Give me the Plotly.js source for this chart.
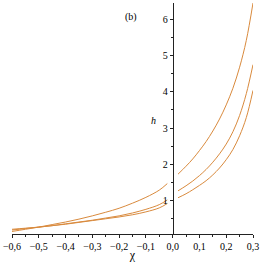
<!DOCTYPE html>
<html>
<head>
<meta charset="utf-8">
<script src="https://cdn.plot.ly/plotly-3.0.1.min.js"></script>
<style>html,body{margin:0;padding:0;background:#fff;}#chart{width:262px;height:262px;}</style>
</head>
<body>
<div id="chart"></div>
<script>
// Left branches (chi < 0)
const chiLeft = [-0.6,-0.55,-0.5,-0.45,-0.4,-0.35,-0.3,-0.25,-0.2,-0.15,-0.1,-0.05,-0.02];
const hTopLeft = [0.15,0.21,0.27,0.34,0.41,0.49,0.58,0.68,0.79,0.93,1.09,1.29,1.47];
const hMidLeft = [0.19,0.23,0.27,0.31,0.36,0.41,0.46,0.52,0.58,0.66,0.76,0.89,1.02];
const hLowLeft = [0.21,0.24,0.27,0.31,0.35,0.40,0.45,0.50,0.55,0.61,0.69,0.80,0.92];
// Right branches (chi > 0)
const chiRight = [0.02,0.05,0.075,0.1,0.125,0.15,0.175,0.2,0.225,0.25,0.275,0.3];
const hTopRight = [1.73,1.95,2.15,2.38,2.63,2.92,3.25,3.64,4.10,4.68,5.42,6.45];
const hMidRight = [1.27,1.41,1.54,1.69,1.86,2.06,2.29,2.56,2.90,3.35,3.95,4.75];
const hLowRight = [1.08,1.19,1.30,1.42,1.55,1.71,1.90,2.13,2.41,2.79,3.29,4.04];

const yTickVals = [1,2,3,4,5,6];
const xTickVals = [-0.6,-0.5,-0.4,-0.3,-0.2,-0.1,0,0.1,0.2,0.3];

const col = '#d98a3d';
const mk = (x, y) => ({x: x, y: y, type: 'scatter', mode: 'lines',
  line: {color: col, width: 1, shape: 'spline', smoothing: 1}, hoverinfo: 'none'});

const data = [
  mk(chiLeft, hTopLeft), mk(chiLeft, hMidLeft), mk(chiLeft, hLowLeft),
  mk(chiRight, hTopRight), mk(chiRight, hMidRight), mk(chiRight, hLowRight)
];

const fam = 'Liberation Serif, serif';
const fnt = {family: fam, size: 10, color: '#000'};

const layout = {
  width: 262, height: 262,
  margin: {l: 12, r: 9, t: 3, b: 28, pad: 0},
  paper_bgcolor: '#fff', plot_bgcolor: '#fff',
  showlegend: false,
  separators: ', ',
  font: fnt,
  xaxis: {
    range: [-0.6, 0.3], showgrid: false, zeroline: false,
    showline: true, linecolor: '#222', linewidth: 1,
    ticks: 'outside', ticklen: 3, tickcolor: '#222',
    tickvals: xTickVals, tickformat: '.1f',
    minor: {dtick: 0.05, tick0: 0, ticks: 'outside', ticklen: 2, tickcolor: '#222'},
    tickfont: fnt,
    title: {text: 'χ', font: {family: fam, size: 12, color: '#000'}, standoff: 4}
  },
  yaxis: {
    range: [0.08, 6.45], showgrid: false, zeroline: false,
    anchor: 'free', position: 0.6/0.9, side: 'left',
    showline: true, linecolor: '#222', linewidth: 1,
    ticks: 'outside', ticklen: 3, tickcolor: '#222',
    tickvals: yTickVals,
    minor: {dtick: 0.5, tick0: 0, ticks: 'outside', ticklen: 2, tickcolor: '#222'},
    tickfont: fnt
  },
  annotations: [
    {text: 'h', xref: 'paper', yref: 'paper', x: (153.3-12)/241, y: (234-120.7)/231,
     showarrow: false, font: {family: fam, size: 10, color: '#000', style: 'italic'}},
    {text: '(b)', xref: 'paper', yref: 'paper', x: (130.7-12)/241, y: (234-9)/231,
     showarrow: false, font: {family: fam, size: 10, color: '#000'}}
  ]
};

Plotly.newPlot('chart', data, layout, {staticPlot: true, displayModeBar: false});
</script>
</body>
</html>
